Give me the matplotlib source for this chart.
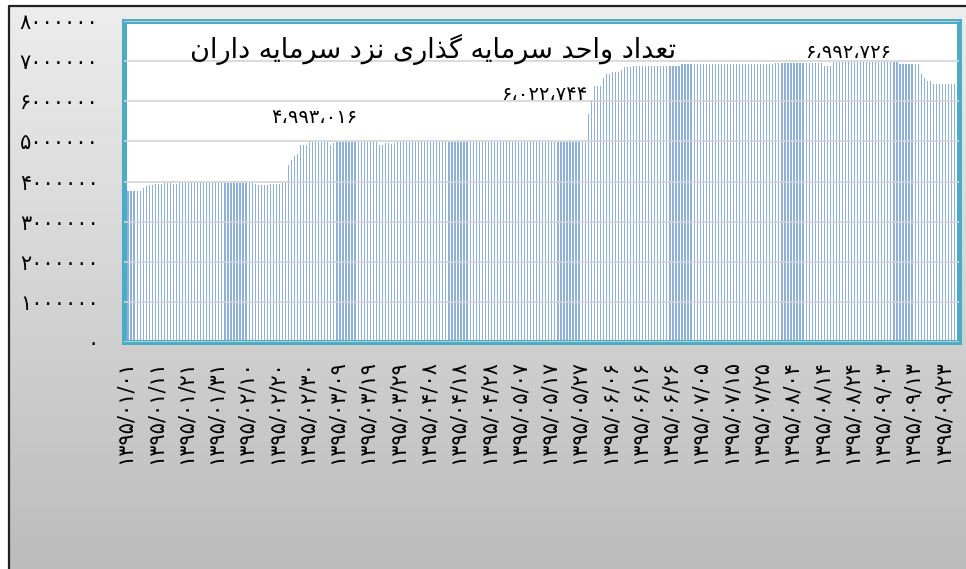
import numpy as np
import matplotlib.pyplot as plt
from matplotlib.colors import LinearSegmentedColormap

plt.rcParams['font.family'] = ['DejaVu Sans']

# تعداد واحد روزانه (میلیون) از ۱۳۹۵/۰۱/۰۱ تا ۱۳۹۵/۰۹/۳۰ ، هر سطر ده روز
units_m = [
    3.77, 3.77, 3.77, 3.77, 3.77, 3.77, 3.83, 3.885, 3.91, 3.91,
    3.945, 3.945, 3.945, 3.96, 3.96, 3.955, 3.95, 3.95, 3.955, 3.96,
    3.96, 3.96, 3.96, 3.96, 3.955, 3.96, 3.96, 3.96, 3.96, 3.96,
    3.96, 3.96, 3.96, 3.96, 3.96, 3.96, 3.96, 3.96, 3.96, 3.96,
    3.96, 3.96, 3.955, 3.95, 3.92, 3.92, 3.92, 3.92, 3.95, 3.95,
    3.95, 3.95, 3.955, 3.955, 4.42, 4.54, 4.64, 4.69, 4.92, 4.92,
    4.92, 4.985, 4.993016, 4.985, 4.985, 4.985, 4.985, 4.98, 4.92, 4.95,
    4.98, 4.985, 4.985, 4.985, 4.985, 4.985, 4.985, 4.985, 4.985, 4.985,
    4.985, 4.985, 4.985, 4.98, 4.90, 4.90, 4.95, 4.95, 4.93, 4.97,
    4.98, 4.985, 4.985, 4.985, 4.985, 4.985, 4.985, 4.985, 4.985, 4.985,
    4.985, 4.985, 4.985, 4.985, 4.985, 4.985, 4.985, 4.985, 4.985, 4.985,
    4.985, 4.985, 4.985, 4.985, 4.985, 4.985, 4.985, 4.985, 4.985, 4.985,
    4.985, 4.985, 4.985, 4.985, 4.985, 4.985, 4.985, 4.985, 4.985, 4.985,
    4.985, 4.985, 4.985, 4.985, 4.985, 4.985, 4.985, 4.985, 4.985, 4.985,
    4.985, 4.985, 4.985, 4.985, 4.985, 4.985, 4.985, 4.985, 4.985, 4.985,
    4.985, 4.985, 4.985, 5.68, 6.022744, 6.39, 6.39, 6.39, 6.59, 6.68,
    6.68, 6.73, 6.73, 6.73, 6.78, 6.86, 6.86, 6.86, 6.88, 6.88,
    6.88, 6.87, 6.89, 6.89, 6.89, 6.89, 6.89, 6.89, 6.89, 6.89,
    6.89, 6.89, 6.89, 6.89, 6.92, 6.92, 6.92, 6.92, 6.92, 6.92,
    6.92, 6.92, 6.92, 6.92, 6.92, 6.92, 6.92, 6.92, 6.92, 6.92,
    6.92, 6.94, 6.94, 6.94, 6.94, 6.94, 6.94, 6.94, 6.94, 6.94,
    6.94, 6.94, 6.94, 6.94, 6.94, 6.965, 6.965, 6.965, 6.965, 6.965,
    6.965, 6.965, 6.965, 6.965, 6.965, 6.965, 6.965, 6.965, 6.965, 6.965,
    6.965, 6.88, 6.88, 6.88, 6.97, 6.97, 6.97, 6.975, 6.98, 6.992726,
    6.98, 6.975, 6.97, 6.97, 6.97, 6.97, 6.97, 6.97, 6.97, 6.97,
    6.97, 6.97, 6.97, 6.97, 6.97, 6.97, 6.92, 6.92, 6.92, 6.92,
    6.92, 6.92, 6.92, 6.68, 6.59, 6.51, 6.50, 6.43, 6.43, 6.43,
    6.43, 6.43, 6.43, 6.43, 6.42, 6.26,
]

tick_dates = [
    '1395/01/01', '1395/01/11', '1395/01/21', '1395/01/31', '1395/02/10',
    '1395/02/20', '1395/02/30', '1395/03/09', '1395/03/19', '1395/03/29',
    '1395/04/08', '1395/04/18', '1395/04/28', '1395/05/07', '1395/05/17',
    '1395/05/27', '1395/06/06', '1395/06/16', '1395/06/26', '1395/07/05',
    '1395/07/15', '1395/07/25', '1395/08/04', '1395/08/14', '1395/08/24',
    '1395/09/03', '1395/09/13', '1395/09/23',
]
tick_step = 10

y_ticks = [0, 1000000, 2000000, 3000000, 4000000, 5000000, 6000000, 7000000, 8000000]

title_fa = 'تعداد واحد سرمایه گذاری نزد سرمایه داران'

# روزهایی که برچسب مقدار دارند و جای برچسب (روز، مقدار)
labelled_days = [62, 154, 239]
label_pos = [(62.5, 5.60e6), (138.5, 6.16e6), (239.0, 7.22e6)]

FA_DIGITS = str.maketrans('0123456789,', '۰۱۲۳۴۵۶۷۸۹،')

# شکل های نمایشی حروف: تنها، پایانی، آغازی، میانی
FORMS = {
    'ا': ('\uFE8D', '\uFE8E', None, None),
    'د': ('\uFEA9', '\uFEAA', None, None),
    'ذ': ('\uFEAB', '\uFEAC', None, None),
    'ر': ('\uFEAD', '\uFEAE', None, None),
    'ز': ('\uFEAF', '\uFEB0', None, None),
    'و': ('\uFEED', '\uFEEE', None, None),
    'ت': ('\uFE95', '\uFE96', '\uFE97', '\uFE98'),
    'ع': ('\uFEC9', '\uFECA', '\uFECB', '\uFECC'),
    'ح': ('\uFEA1', '\uFEA2', '\uFEA3', '\uFEA4'),
    'س': ('\uFEB1', '\uFEB2', '\uFEB3', '\uFEB4'),
    'م': ('\uFEE1', '\uFEE2', '\uFEE3', '\uFEE4'),
    'ن': ('\uFEE5', '\uFEE6', '\uFEE7', '\uFEE8'),
    'ه': ('\uFEE9', '\uFEEA', '\uFEEB', '\uFEEC'),
    'ی': ('\uFBFC', '\uFBFD', '\uFBFE', '\uFBFF'),
    'گ': ('\uFB92', '\uFB93', '\uFB94', '\uFB95'),
}


def shape_fa(text):
    # matplotlib حروف را نمی چسباند و راست به چپ نمی نویسد
    out = []
    for k, ch in enumerate(text):
        if ch not in FORMS:
            out.append(ch)
            continue
        prev = text[k - 1] if k > 0 else ''
        nxt = text[k + 1] if k + 1 < len(text) else ''
        iso, fin, ini, med = FORMS[ch]
        join_prev = prev in FORMS and FORMS[prev][2] is not None
        join_next = ini is not None and nxt in FORMS
        if join_prev and join_next:
            out.append(med)
        elif join_prev:
            out.append(fin)
        elif join_next:
            out.append(ini)
        else:
            out.append(iso)
    return ''.join(reversed(out))


W, H = 966, 569
fig = plt.figure(figsize=(W / 100, H / 100), dpi=100)

# پس زمینه طوسی با شیب رنگ
bg = fig.add_axes([0, 0, 1, 1], zorder=0)
bg.set_xlim(0, 1)
bg.set_ylim(0, 1)
bg.axis('off')
cmap = LinearSegmentedColormap.from_list('g', ['#ededed', '#bcbcbc'])
bg.imshow(np.linspace(0, 1, 256).reshape(-1, 1), cmap=cmap, aspect='auto',
          extent=[8 / W, 1, 0, 1 - 5 / H], origin='upper')
bg.plot([9 / W, 9 / W, 1], [0, 1 - 6 / H, 1 - 6 / H], color='#222222', lw=1.6)

ax = fig.add_axes([123.5 / W, 1 - 342 / H, (959 - 123.5) / W, (342 - 21) / H], zorder=1)
ax.set_facecolor('white')

values = np.array(units_m) * 1e6
x = np.arange(len(values))
ax.bar(x, values, width=0.4, color='#8fb0da', linewidth=0, zorder=2)

ax.set_xlim(-0.5, len(values) - 0.5)
ax.set_ylim(0, 8e6)
ax.set_yticks(y_ticks)
ax.set_yticklabels([str(v).translate(FA_DIGITS) for v in y_ticks], fontsize=15)
ax.set_xticks(np.arange(len(tick_dates)) * tick_step)
ax.set_xticklabels([d.translate(FA_DIGITS) for d in tick_dates], rotation=90, fontsize=15)
ax.tick_params(length=0)
ax.tick_params(axis='y', pad=18)
ax.tick_params(axis='x', pad=13)

ax.yaxis.grid(True, color='#d4d4d4', lw=1.2, zorder=3)
ax.set_axisbelow(False)
for s in ax.spines.values():
    s.set_color('#4bacc6')
    s.set_linewidth(3.6)

ax.text(0.37, 0.91, shape_fa(title_fa), transform=ax.transAxes,
        ha='center', va='center', fontsize=19.5)

for day, (lx, ly) in zip(labelled_days, label_pos):
    txt = f'{int(round(values[day])):,}'.translate(FA_DIGITS)
    ax.text(lx, ly, txt, ha='center', va='center', fontsize=14)

fig.savefig('out.png', dpi=100)
